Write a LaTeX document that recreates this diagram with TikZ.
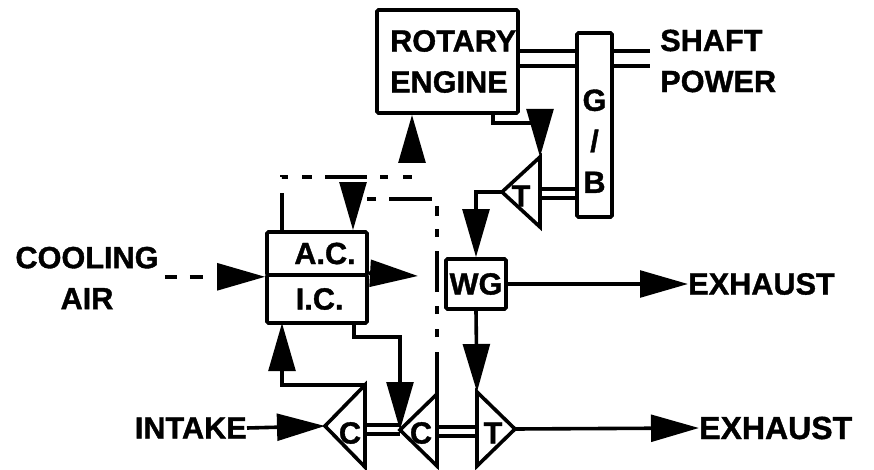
\documentclass[tikz,border=0pt]{standalone}
\usepackage{fontspec}
\setsansfont[BoldFeatures={FakeBold=1.2}]{Liberation Sans}
\usetikzlibrary{shapes.geometric,arrows.meta,positioning}
\begin{document}
\begin{tikzpicture}[
  x=0.75pt,y=-0.75pt,
  font=\sffamily\bfseries\fontsize{23}{30.75}\selectfont,
  every node/.style={align=center},
  blockbox/.style ={rectangle,draw=black,line width=2.7pt,rounded corners=1pt,inner sep=0pt},
  lbl/.style ={inner sep=0pt},
  turbo/.style ={isosceles triangle,isosceles triangle stretches,shape border rotate=#1,draw=black,line width=2.7pt,inner sep=0pt,outer sep=0pt},
  arrx/.style ={draw=black,line width=2.7pt,-{Triangle[length=36pt,width=20pt]}},
  shaft/.style ={draw=black,line width=2.4pt}
]
\useasboundingbox (0,0) rectangle (874,470);

% engine and gearbox
\node[blockbox,minimum width=105.75pt,minimum height=77.25pt,text width=86pt,align=left] (engine) at (447.5,61.5) {ROTARY\\ENGINE};
\node[blockbox,minimum width=26.25pt,minimum height=138pt] (gb) at (594.5,125) {\strut\\[-12pt]G\\/\\B};
\node[lbl,anchor=west,align=left] (power) at (660,61) {SHAFT\\POWER};

% air cooler, intercooler, wastegate
\node[blockbox,minimum width=75pt,minimum height=32.25pt] (ac) at (317,253.5) {\hspace*{12pt}A.C.};
\node[blockbox,minimum width=75pt,minimum height=36pt] (ic) at (317,299) {\hspace*{4pt}I.C.};
\node[blockbox,minimum width=45pt,minimum height=37.5pt] (wg) at (476,284) {WG};

% turbomachinery
\node[turbo=180,minimum height=28.5pt,minimum width=52.5pt,anchor=apex] (tt) at (502,192) {};
\node[lbl] (ttl) at (521,196) {T};
\node[turbo=180,minimum height=30pt,minimum width=61.5pt,anchor=apex] (ca) at (325,426) {};
\node[lbl] (cal) at (350,433) {C};
\node[turbo=180,minimum height=27.75pt,minimum width=54pt,anchor=apex] (cb) at (400,430) {};
\node[lbl] (cbl) at (421,433) {C};
\node[turbo=0,minimum height=28.5pt,minimum width=55.5pt,anchor=apex] (tb) at (515,429) {};
\node[lbl] (tbl) at (493,433) {T};

% labels
\node[lbl] (cool) at (87,278) {COOLING\\AIR};
\node[lbl,anchor=east] (intake) at (247,428) {INTAKE};
\node[lbl,anchor=west] (exa) at (688,284) {EXHAUST};
\node[lbl,anchor=west,font=\sffamily\bfseries\fontsize{24}{30}\selectfont] (exb) at (699,428) {EXHAUST};

% free ends
\coordinate (spa) at (650,51);
\coordinate (spb) at (650,66);
\coordinate (tsa) at (0,189);
\coordinate (tsb) at (0,198);
\coordinate (csa) at (0,425);
\coordinate (csb) at (0,434);
\coordinate (csc) at (0,427);
\coordinate (csd) at (0,436);
\coordinate (acout) at (418,276);
\coordinate (icin) at (282,323);
\coordinate (exst) at (493,113);
\coordinate (exmid) at (540,123);
\coordinate (ctla) at (282,232);
\coordinate (ctlb) at (412,177);
\coordinate (ctlc) at (353,199);

% shafts
\draw[shaft] (engine.east |- spa) -- (gb.west |- spa);
\draw[shaft] (engine.east |- spb) -- (gb.west |- spb);
\draw[shaft] (gb.east |- spa) -- (spa);
\draw[shaft] (gb.east |- spb) -- (spb);
\draw[shaft] (tt.left corner |- tsa) -- (gb.west |- tsa);
\draw[shaft] (tt.left corner |- tsb) -- (gb.west |- tsb);
\draw[shaft] (ca.left corner |- csa) -- (cb.apex |- csa);
\draw[shaft] (ca.left corner |- csb) -- (cb.apex |- csb);
\draw[shaft] (cb.left corner |- csc) -- (tb.left corner |- csc);
\draw[shaft] (cb.left corner |- csd) -- (tb.left corner |- csd);

% gas path
\draw[arrx] (exst) |- (exmid) -- (tt.right corner);
\draw[arrx] (tt.apex) -| (wg.north);
\draw[arrx] (wg.east) -- (exa.west);
\draw[arrx] (wg.south) -- (tb.left corner);
\draw[arrx] (tb.apex) -- (exb.west);

% air path
\draw[arrx] (intake.east) -- (ca.apex);
\draw[arrx] (ca.right corner) -| (icin);
\draw[arrx] (ic.south -| 354,0) |- (400,337) -- (cb.apex);
\draw[arrx] (ic.north east) -- (acout);
\draw[arrx,dash pattern=on 0pt off 4.5pt on 9pt off 9.75pt on 9.75pt off 100pt] (cool.east |- ac.south) -- (ac.south west);

% control lines
\draw[arrx,dash pattern=on 29.25pt off 12pt on 4.5pt off 10.5pt on 7.5pt off 9.75pt on 31.5pt off 9.75pt on 6pt off 11.25pt on 6.75pt off 100pt] (ctla) |- (ctlb) -- (engine.south -| ctlb);
\draw[arrx,dash pattern=on 85.5pt off 11.25pt on 6pt off 11.25pt on 6pt off 10.5pt on 30.75pt off 10.5pt on 6pt off 9.75pt on 7.5pt off 9pt on 32.25pt off 9.75pt on 6.75pt off 100pt] (cb.left corner) |- (ctlc) -- (ac.north -| ctlc);
\end{tikzpicture}
\end{document}
